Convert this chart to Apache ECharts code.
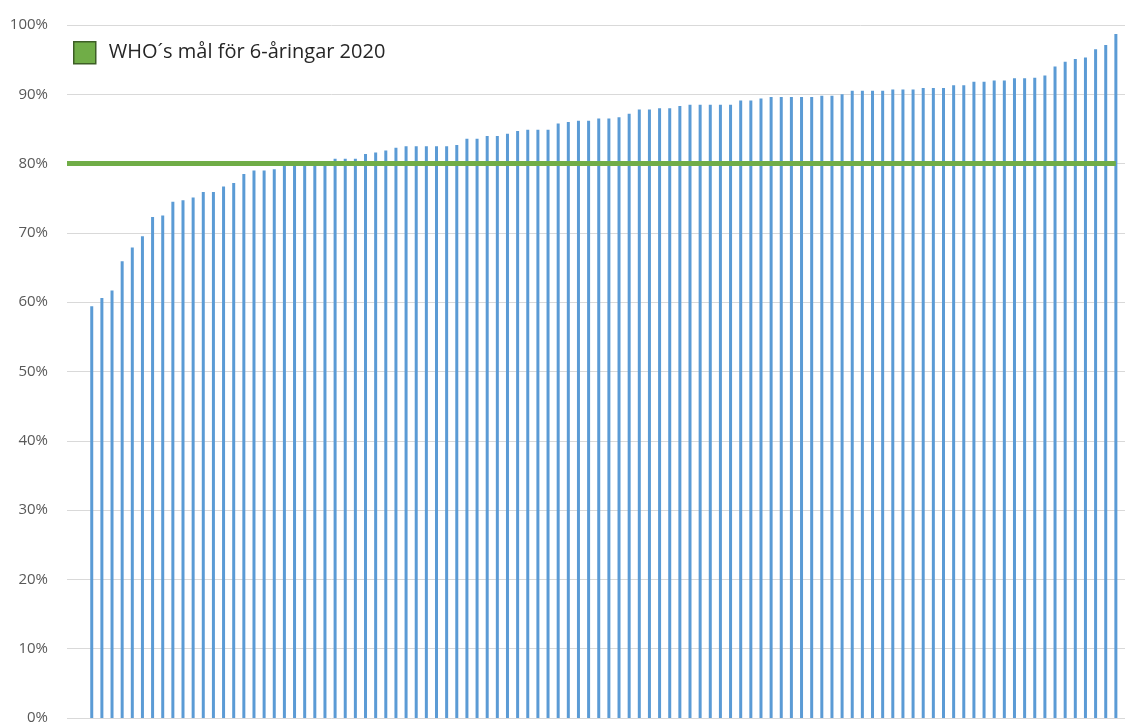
<!DOCTYPE html>
<html>
<head>
<meta charset="utf-8">
<style>
  html, body { margin: 0; padding: 0; background: #fff; }
  #chart { width: 1125px; height: 722px; }
</style>
<script src="https://cdn.jsdelivr.net/npm/echarts@6/dist/echarts.min.js"></script>
</head>
<body>
<div id="chart"></div>
<script>
// andel per enhet (%), sorterad stigande
const shares = [
  59.4, 60.6, 61.7, 65.9, 67.9, 69.5, 72.3, 72.5, 74.5, 74.7,
  75.1, 75.9, 75.9, 76.7, 77.2, 78.5, 79.0, 79.0, 79.2, 79.7,
  80.0, 80.1, 80.2, 80.3, 80.7, 80.7, 80.7, 81.4, 81.6, 81.9,
  82.3, 82.5, 82.5, 82.5, 82.5, 82.5, 82.7, 83.6, 83.6, 84.0,
  84.0, 84.3, 84.7, 84.9, 84.9, 84.9, 85.8, 86.0, 86.2, 86.2,
  86.5, 86.5, 86.7, 87.2, 87.8, 87.8, 88.0, 88.0, 88.3, 88.5,
  88.5, 88.5, 88.5, 88.5, 89.1, 89.1, 89.4, 89.6, 89.6, 89.6,
  89.6, 89.6, 89.8, 89.8, 90.0, 90.5, 90.5, 90.5, 90.5, 90.7,
  90.7, 90.7, 90.9, 90.9, 90.9, 91.3, 91.3, 91.8, 91.8, 92.0,
  92.0, 92.3, 92.3, 92.4, 92.7, 94.0, 94.7, 95.1, 95.3, 96.5,
  97.1, 98.7
]
const goalName = 'WHO´s mål för 6-åringar 2020'
const goalValue = 80
const yTicks = { min: 0, max: 100, interval: 10 }

// x-axeln går lite utanför staplarna, som i originalet
const xMin = -2.44
const xMax = 101.9

const chart = echarts.init(document.getElementById('chart'))

const option = {
  animation: false,
  backgroundColor: '#fff',
  grid: {
    left: 67,
    right: 0,
    top: 25,
    bottom: 4,
    outerBoundsMode: 'none'
  },
  legend: {
    data: [goalName],
    left: 73,
    top: 41,
    icon: 'rect',
    itemWidth: 22,
    itemHeight: 22,
    itemGap: 10,
    padding: 0,
    itemStyle: {
      color: '#70AD47',
      borderColor: '#3d5e26',
      borderWidth: 1.5
    },
    textStyle: {
      fontFamily: 'Open Sans',
      fontSize: 20,
      color: '#262626',
      padding: [0, 0, 0, 8]
    }
  },
  xAxis: {
    type: 'value',
    min: xMin,
    max: xMax,
    show: false
  },
  yAxis: {
    type: 'value',
    min: yTicks.min,
    max: yTicks.max,
    interval: yTicks.interval,
    axisLine: { show: false },
    axisTick: { show: false },
    axisLabel: {
      formatter: '{value}%',
      margin: 19,
      fontFamily: 'Open Sans',
      fontSize: 15,
      color: '#595959'
    },
    splitLine: {
      lineStyle: { color: '#d9d9d9', width: 1 }
    }
  },
  series: [
    {
      type: 'bar',
      data: shares.map((v, i) => [i, v]),
      barWidth: 3,
      itemStyle: { color: '#5B9BD5' },
      z: 2
    },
    {
      name: goalName,
      type: 'line',
      data: [[xMin, goalValue], [shares.length - 1, goalValue]],
      symbol: 'none',
      lineStyle: { color: '#70AD47', width: 5 },
      z: 5
    }
  ]
}

chart.setOption(option)
</script>
</body>
</html>
